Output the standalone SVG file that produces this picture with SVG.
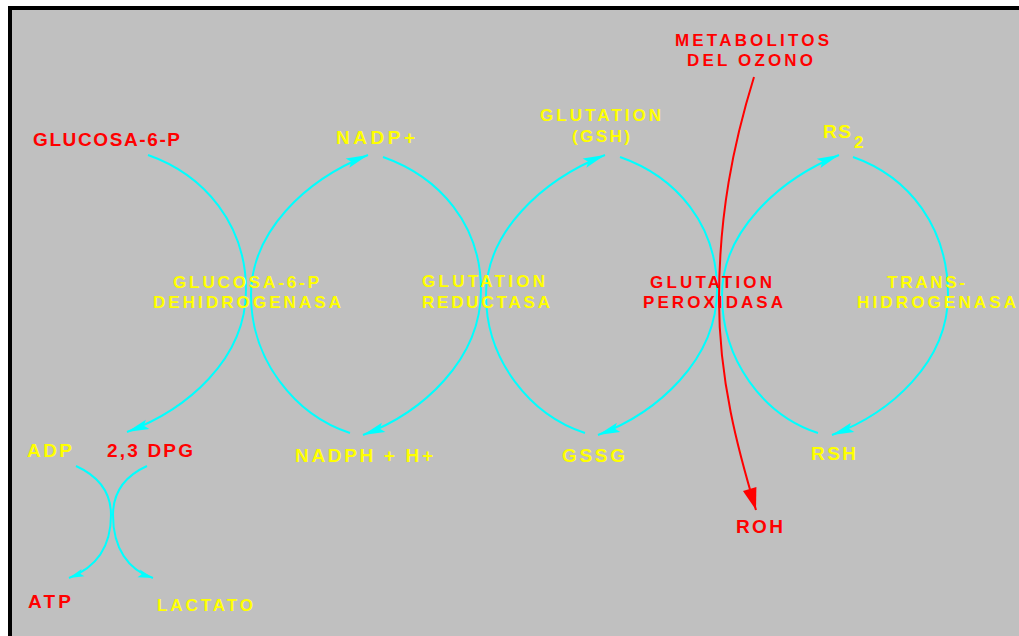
<svg xmlns="http://www.w3.org/2000/svg" width="1019" height="636" viewBox="0 0 1019 636">
<defs>
<style>
text{font-family:"Liberation Sans",Arial,sans-serif;font-weight:bold}
.y{fill:#ffff00}
.r{fill:#ff0000}
.m{font-size:19px}
.e{font-size:17px}
.c{fill:none;stroke:#00ffff;stroke-width:2}
.rl{fill:none;stroke:#ff0000;stroke-width:2}
.big{marker-end:url(#ah)}
.sm{marker-end:url(#ahs)}
</style>
<marker id="ah" markerUnits="userSpaceOnUse" markerWidth="26" markerHeight="12" refX="22" refY="5" orient="auto" overflow="visible">
<path d="M0,0 L22,5 L0,10 L4,5 z" fill="#00ffff"/>
</marker>
<marker id="ahs" markerUnits="userSpaceOnUse" markerWidth="18" markerHeight="10" refX="15" refY="4" orient="auto" overflow="visible">
<path d="M0,0 L15,4 L0,8 L3,4 z" fill="#00ffff"/>
</marker>
<marker id="ahr" markerUnits="userSpaceOnUse" markerWidth="26" markerHeight="16" refX="22" refY="7" orient="auto" overflow="visible">
<path d="M0,0 L22,7 L0,14 z" fill="#ff0000"/>
</marker>
</defs>
<rect x="0" y="0" width="1019" height="636" fill="#ffffff"/>
<rect x="8" y="6" width="1011" height="630" fill="#000000"/>
<rect x="12" y="10" width="1007" height="626" fill="#c0c0c0"/>

<g id="connectors">
<path class="c big" d="M148,155 C205,175 246,225 246,290 C246,360 186,410 127,432"/>
<path class="c big" d="M350,433 C295,415 251,360 251,295 C251,232 305,180 368,155"/>
<path class="c big" d="M383,157 C440,177 481,225 481,290 C481,360 422,413 363,435"/>
<path class="c big" d="M585,433 C530,415 486,360 486,295 C486,232 542,180 605,155"/>
<path class="c big" d="M620,157 C677,177 717,225 717,290 C717,360 657,413 598,435"/>
<path class="c big" d="M818,433 C763,415 722,360 722,295 C722,232 778,180 839,155"/>
<path class="c big" d="M853,157 C910,177 948,228 948,295 C948,362 891,413 832,435"/>
<path class="c sm" d="M76,466 C98,476 111,492 111,515 C111,548 95,568 69,578"/>
<path class="c sm" d="M147,466 C125,476 113,492 113,515 C113,548 128,570 153,578"/>
<path class="rl" d="M754,77 C733,145 719,215 719,300 C719,380 738,450 756,510" marker-end="url(#ahr)"/>
</g>

<g id="glucosa6p"><text class="r m" x="33" y="146" textLength="147" lengthAdjust="spacing">GLUCOSA-6-P</text></g>
<g id="nadp"><text class="y m" x="336" y="144" textLength="79" lengthAdjust="spacing">NADP+</text></g>
<g id="gsh">
<text class="y e" x="540" y="121" textLength="121" lengthAdjust="spacing">GLUTATION</text>
<text class="y e" x="572" y="142" textLength="58" lengthAdjust="spacing">(GSH)</text>
</g>
<g id="metabolitos">
<text class="r e" x="675" y="46" textLength="154" lengthAdjust="spacing">METABOLITOS</text>
<text class="r e" x="687" y="66" textLength="126" lengthAdjust="spacing">DEL OZONO</text>
</g>
<g id="rs2"><text class="y m" x="823" y="138" textLength="28" lengthAdjust="spacing">RS</text><text class="y e" x="854" y="148">2</text></g>
<g id="g6pd">
<text class="y e" x="173" y="288" textLength="146" lengthAdjust="spacing">GLUCOSA-6-P</text>
<text class="y e" x="153" y="308" textLength="188" lengthAdjust="spacing">DEHIDROGENASA</text>
</g>
<g id="reductasa">
<text class="y e" x="422" y="287" textLength="123" lengthAdjust="spacing">GLUTATION</text>
<text class="y e" x="422" y="308" textLength="128" lengthAdjust="spacing">REDUCTASA</text>
</g>
<g id="peroxidasa">
<text class="r e" x="650" y="288" textLength="122" lengthAdjust="spacing">GLUTATION</text>
<text class="r e" x="643" y="308" textLength="140" lengthAdjust="spacing">PEROXIDASA</text>
</g>
<g id="transhidrogenasa">
<text class="y e" x="887" y="288" textLength="78" lengthAdjust="spacing">TRANS-</text>
<text class="y e" x="857" y="308" textLength="159" lengthAdjust="spacing">HIDROGENASA</text>
</g>
<g id="adp"><text class="y m" x="27" y="457" textLength="45" lengthAdjust="spacing">ADP</text></g>
<g id="dpg"><text class="r m" x="107" y="457" textLength="86" lengthAdjust="spacing">2,3 DPG</text></g>
<g id="nadph"><text class="y m" x="295" y="462" textLength="138" lengthAdjust="spacing">NADPH + H+</text></g>
<g id="gssg"><text class="y m" x="562" y="462" textLength="63" lengthAdjust="spacing">GSSG</text></g>
<g id="rsh"><text class="y m" x="811" y="460" textLength="45" lengthAdjust="spacing">RSH</text></g>
<g id="roh"><text class="r m" x="736" y="533" textLength="47" lengthAdjust="spacing">ROH</text></g>
<g id="atp"><text class="r m" x="28" y="608" textLength="43" lengthAdjust="spacing">ATP</text></g>
<g id="lactato"><text class="y e" x="157" y="611" textLength="96" lengthAdjust="spacing">LACTATO</text></g>
</svg>
